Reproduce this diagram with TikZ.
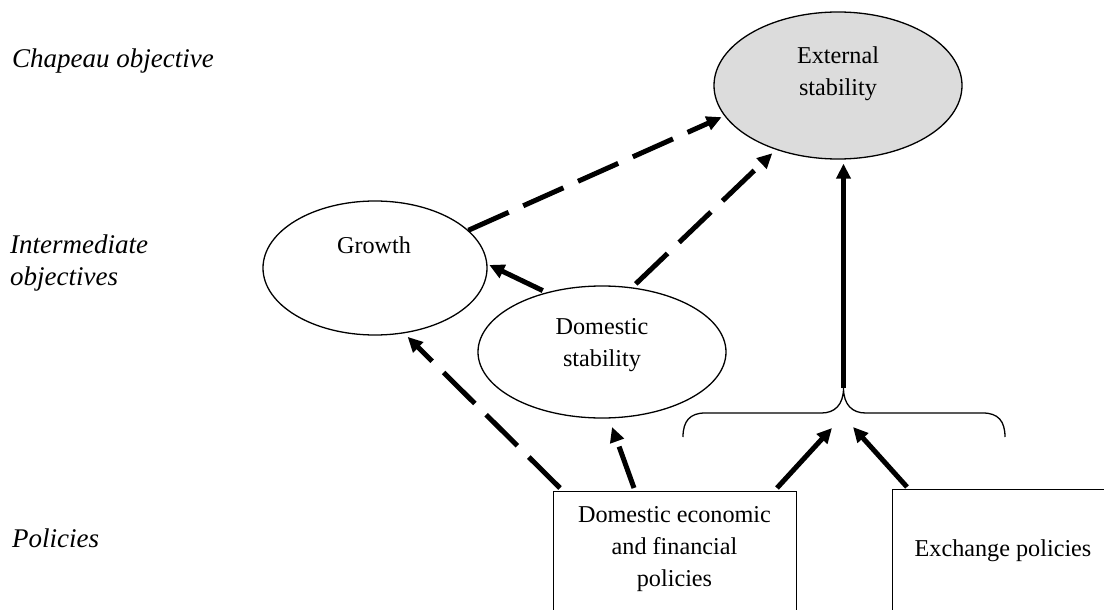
\documentclass[tikz,border=0pt]{standalone}
\usepackage{fontspec}
\setmainfont{Liberation Serif}
\usetikzlibrary{arrows.meta,shapes.geometric,calc}
\definecolor{extfill}{RGB}{220,220,220}
\begin{document}
\begin{tikzpicture}[x=1pt,y=-1pt,
  ell/.style={draw=black, line width=1.3pt, ellipse, inner sep=0pt},
  boxst/.style={draw=black, line width=1.3pt, rectangle, inner sep=0pt, anchor=north west},
  body/.style={font=\fontsize{24.2}{32}\selectfont, align=center, inner sep=0pt},
  lab/.style={font=\fontsize{27}{32}\selectfont\itshape, align=left, inner sep=0pt},
  dasharrow/.style={line width=5pt, dash pattern=on 44pt off 16pt, -{Triangle[length=15pt,width=14pt]}},
  solidarrow/.style={line width=5pt, -{Triangle[length=15pt,width=14pt]}},
  bracest/.style={line width=1.3pt}
]
\useasboundingbox (0,0) rectangle (1104,610);
\clip (0,0) rectangle (1104,610);

% left labels
\node[lab, anchor=base west] (lchap) at (12,68) {Chapeau objective};
\node[lab, anchor=west] (linter) at (10,262.8) {Intermediate\\objectives};
\node[lab, anchor=base west] (lpol) at (12,547) {Policies};

% ellipses
\node[ell, fill=extfill, minimum width=248pt, minimum height=147pt] (ext) at (838,85.5) {};
\node[body] (extt) at (838,74) {External\\stability};
\node[ell, minimum width=224pt, minimum height=134pt] (growth) at (375,268) {};
\node[body, anchor=base] (growtht) at (374,253) {Growth};
\node[ell, minimum width=248pt, minimum height=132pt] (dom) at (602,352) {};
\node[body] (domt) at (602,345.4) {Domestic\\stability};

% boxes
\node[boxst, minimum width=243pt, minimum height=169pt] (box1) at (553,491) {};
\node[body] (box1t) at (674.5,549.4) {Domestic economic\\and financial\\policies};
\node[boxst, minimum width=238pt, minimum height=169pt] (box2) at (892,489) {};
\node[body, anchor=base] (box2t) at (1003,556) {Exchange policies};

% brace
\coordinate (brl) at (683,437);
\coordinate (brt) at (843.5,388);
\coordinate (brr) at (1005,437);
\draw[bracest] (brl) .. controls ($(brl)+(0,-16)$) and ($(brl)+(7,-24)$) .. ($(brl)+(22,-24)$)
  -- ($(brt)+(-22,25)$) .. controls ($(brt)+(-9,25)$) and ($(brt)+(0,17)$) .. (brt)
  .. controls ($(brt)+(0,17)$) and ($(brt)+(9,25)$) .. ($(brt)+(22,25)$)
  -- ($(brr)+(-22,-24)$) .. controls ($(brr)+(-7,-24)$) and ($(brr)+(0,-16)$) .. (brr);

% free ends of arrows into brace
\coordinate (bin1) at (832,428);
\coordinate (bin2) at (853,427);

% connectors
\draw[dasharrow, shorten >=3pt] (growth.22.2) -- (ext.195.8);
\draw[dasharrow, shorten <=5pt, shorten >=5pt] (dom.65.8) -- (ext.226.1);
\draw[solidarrow, shorten <=4pt, shorten >=2pt] (dom.133.6) -- (growth.2);
\draw[dasharrow, shorten >=5pt] ([xshift=7pt,yshift=3pt]box1.north west) -- (growth.-66.8);
\draw[dasharrow, shorten >=9pt] ([xshift=81pt,yshift=3pt]box1.north west) -- (dom.-84.7);
\draw[solidarrow] ([xshift=224pt,yshift=3pt]box1.north west) -- (bin1);
\draw[solidarrow] ([xshift=15pt,yshift=2pt]box2.north west) -- (bin2);
\draw[solidarrow, shorten >=4pt] (brt) -- (brt |- ext.south);
\end{tikzpicture}
\end{document}
